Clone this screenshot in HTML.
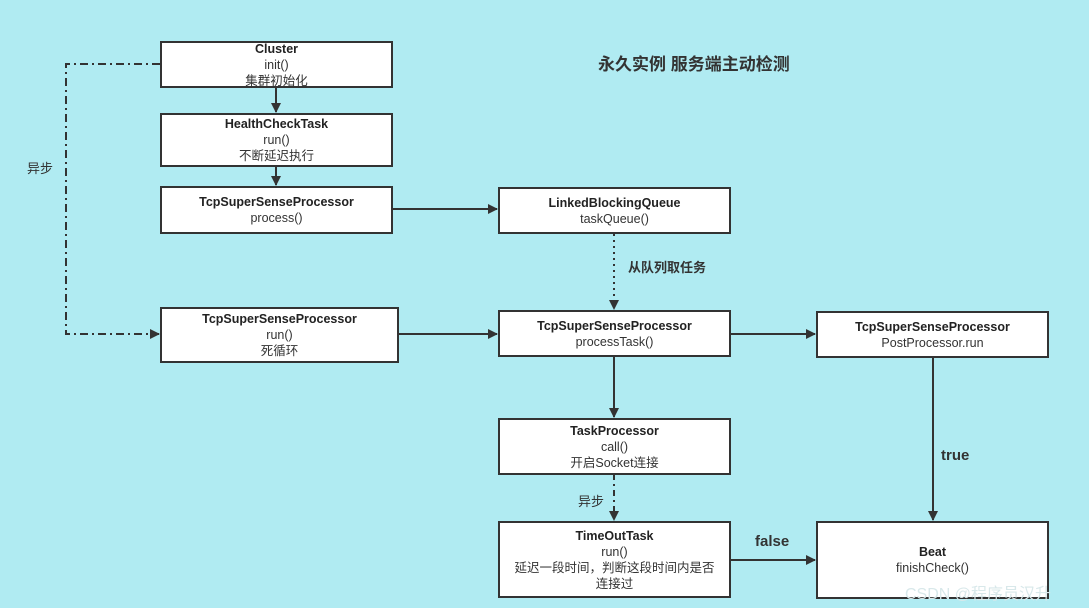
<!DOCTYPE html>
<html><head><meta charset="utf-8"><style>
body{margin:0;width:1089px;height:608px;background:#b0ebf2;position:relative;overflow:hidden;font-family:"Liberation Sans","Noto Sans CJK SC",sans-serif;color:#333}
.b{position:absolute;border:2px solid #333;background:#fff;box-sizing:border-box;text-align:center;font-size:12.5px;line-height:16px;display:flex;flex-direction:column;justify-content:center}
.b b{color:#222}
.t{position:absolute;font-size:13px;font-weight:bold;color:#333}
svg{position:absolute;left:0;top:0}
</style></head><body>
<svg width="1089" height="608">
<defs><marker id="a" markerWidth="10" markerHeight="10" refX="9" refY="5" orient="auto" markerUnits="userSpaceOnUse"><path d="M0,0 L10,5 L0,10z" fill="#333"/></marker></defs>
<g stroke="#333" stroke-width="2" fill="none">
<line x1="276" y1="87" x2="276" y2="112" marker-end="url(#a)"/>
<line x1="276" y1="166" x2="276" y2="185" marker-end="url(#a)"/>
<line x1="392" y1="209" x2="497" y2="209" marker-end="url(#a)"/>
<line x1="614" y1="234" x2="614" y2="309" stroke-dasharray="2,4" marker-end="url(#a)"/>
<line x1="398" y1="334" x2="497" y2="334" marker-end="url(#a)"/>
<line x1="730" y1="334" x2="815" y2="334" marker-end="url(#a)"/>
<line x1="614" y1="356" x2="614" y2="417" marker-end="url(#a)"/>
<line x1="614" y1="474" x2="614" y2="520" stroke-dasharray="6,4,2,4" marker-end="url(#a)"/>
<line x1="730" y1="560" x2="815" y2="560" marker-end="url(#a)"/>
<line x1="933" y1="357" x2="933" y2="520" marker-end="url(#a)"/>
<path d="M160,64 H66 V334 H159" stroke-dasharray="8,4,2,4" marker-end="url(#a)"/>
</g></svg>
<div class="b" style="left:160px;top:41px;width:233px;height:47px"><b>Cluster</b>init()<br>集群初始化</div>
<div class="b" style="left:160px;top:113px;width:233px;height:54px"><b>HealthCheckTask</b>run()<br>不断延迟执行</div>
<div class="b" style="left:160px;top:186px;width:233px;height:48px"><b>TcpSuperSenseProcessor</b>process()</div>
<div class="b" style="left:160px;top:307px;width:239px;height:56px"><b>TcpSuperSenseProcessor</b>run()<br>死循环</div>
<div class="b" style="left:498px;top:187px;width:233px;height:47px"><b>LinkedBlockingQueue</b>taskQueue()</div>
<div class="b" style="left:498px;top:310px;width:233px;height:47px"><b>TcpSuperSenseProcessor</b>processTask()</div>
<div class="b" style="left:816px;top:311px;width:233px;height:47px"><b>TcpSuperSenseProcessor</b>PostProcessor.run</div>
<div class="b" style="left:498px;top:418px;width:233px;height:57px"><b>TaskProcessor</b>call()<br>开启Socket连接</div>
<div class="b" style="left:498px;top:521px;width:233px;height:77px"><b>TimeOutTask</b>run()<br>延迟一段时间，判断这段时间内是否<br>连接过</div>
<div class="b" style="left:816px;top:521px;width:233px;height:78px"><b>Beat</b>finishCheck()</div>
<div class="t" style="left:598px;top:50px;font-size:17px">永久实例 服务端主动检测</div>
<div class="t" style="left:27px;top:158px;font-weight:normal">异步</div>
<div class="t" style="left:628px;top:257px">从队列取任务</div>
<div class="t" style="left:578px;top:491px;font-weight:normal">异步</div>
<div class="t" style="left:755px;top:533px;font-size:15px">false</div>
<div class="t" style="left:941px;top:447px;font-size:15px">true</div>
<div style="position:absolute;left:905px;top:580px;font-size:16px;color:#d8e8ea">CSDN @程序员汉升</div>
</body></html>
